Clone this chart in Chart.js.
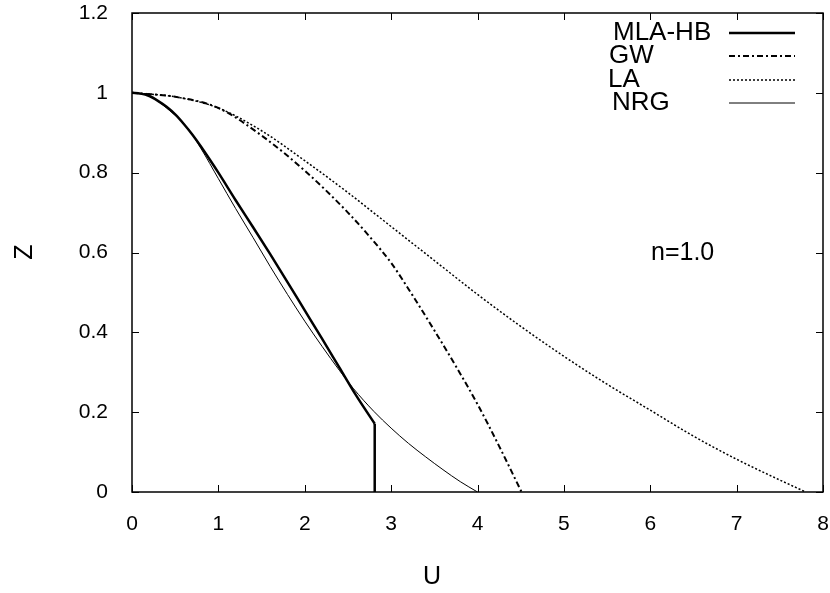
<!DOCTYPE html>
<html>
<head>
<meta charset="utf-8">
<script src="https://cdn.jsdelivr.net/npm/chart.js@4"></script>
<style>
  html, body { margin: 0; padding: 0; background: #fff; }
  #wrap { width: 830px; height: 593px; }
</style>
</head>
<body>
<div id="wrap"><canvas id="chart" width="830" height="593"></canvas></div>
<script>
// values
const mlaU = [0, 0.1, 0.2, 0.3, 0.4, 0.5, 0.6, 0.7, 0.8, 0.9, 1.0, 1.2, 1.4, 1.6, 1.8, 2.0, 2.2, 2.4, 2.6, 2.81];
const mlaZ = [1, 0.998, 0.992, 0.980, 0.965, 0.946, 0.922, 0.895, 0.865, 0.833, 0.800, 0.731, 0.664, 0.596, 0.526, 0.455, 0.384, 0.312, 0.240, 0.171];
const mlaDropU = [2.81, 2.81];
const mlaDropZ = [0.171, 0];

const gwU = [0, 0.5, 1.0, 1.5, 2.0, 2.5, 2.75, 3.0, 3.25, 3.5, 3.75, 4.0, 4.25, 4.51];
const gwZ = [1, 0.990, 0.962, 0.893, 0.805, 0.700, 0.640, 0.574, 0.492, 0.405, 0.315, 0.220, 0.115, 0];

const laU = [0, 0.5, 1.0, 1.5, 2.0, 2.5, 3.0, 3.5, 4.0, 4.5, 5.0, 5.5, 6.0, 6.5, 7.0, 7.5, 7.8];
const laZ = [1, 0.990, 0.962, 0.905, 0.830, 0.750, 0.665, 0.580, 0.495, 0.415, 0.340, 0.270, 0.205, 0.140, 0.082, 0.030, 0];

const nrgU = [0, 0.2, 0.4, 0.65, 0.8, 1.0, 1.2, 1.4, 1.6, 1.8, 2.0, 2.2, 2.4, 2.56, 2.8, 3.0, 3.2, 3.4, 3.6, 3.8, 4.0];
const nrgZ = [1, 0.992, 0.962, 0.910, 0.860, 0.785, 0.710, 0.638, 0.565, 0.495, 0.428, 0.365, 0.305, 0.260, 0.202, 0.160, 0.122, 0.088, 0.056, 0.026, 0];

const xTicks = [0, 1, 2, 3, 4, 5, 6, 7, 8];
const yTicks = [0, 0.2, 0.4, 0.6, 0.8, 1, 1.2];
const legendNames = ['MLA-HB', 'GW', 'LA', 'NRG'];

const pts = (us, zs) => us.map((u, i) => ({ x: u, y: zs[i] }));
const FONT = '"Liberation Sans", Arial, Helvetica, sans-serif';

const lineStyles = [
  { borderWidth: 2.5, borderDash: [] },
  { borderWidth: 2, borderDash: [6, 3, 2, 3] },
  { borderWidth: 1.5, borderDash: [2, 2] },
  { borderWidth: 1, borderDash: [] },
];

// frame, inward ticks, titles and key
const framePlugin = {
  id: 'frame',
  afterDraw(chart) {
    const { ctx, chartArea: a, scales } = chart;
    ctx.save();
    ctx.strokeStyle = '#000';
    ctx.lineWidth = 1.5;
    ctx.setLineDash([]);
    ctx.strokeRect(a.left, a.top, a.right - a.left, a.bottom - a.top);

    const len = 7;
    ctx.lineWidth = 1;
    ctx.beginPath();
    xTicks.forEach(v => {
      const px = Math.round(scales.x.getPixelForValue(v)) + 0.5;
      ctx.moveTo(px, a.bottom); ctx.lineTo(px, a.bottom - len);
      ctx.moveTo(px, a.top); ctx.lineTo(px, a.top + len);
    });
    yTicks.forEach(v => {
      const py = Math.round(scales.y.getPixelForValue(v)) + 0.5;
      ctx.moveTo(a.left, py); ctx.lineTo(a.left + len, py);
      ctx.moveTo(a.right, py); ctx.lineTo(a.right - len, py);
    });
    ctx.stroke();

    ctx.fillStyle = '#000';
    ctx.textBaseline = 'middle';
    ctx.textAlign = 'center';
    ctx.font = '25px ' + FONT;
    ctx.fillText('U', 432, 577);
    ctx.save();
    ctx.translate(25, 252);
    ctx.rotate(-Math.PI / 2);
    ctx.fillText('Z', 0, 0);
    ctx.restore();

    ctx.textAlign = 'left';
    ctx.font = '25px ' + FONT;
    ctx.fillText('n=1.0', 651, 253);

    const textX = [613, 609, 608, 612];
    const rowY = [33, 56, 80, 103];
    ctx.font = '26px ' + FONT;
    legendNames.forEach((name, i) => {
      ctx.fillText(name, textX[i], rowY[i]);
      ctx.lineWidth = lineStyles[i].borderWidth;
      ctx.setLineDash(lineStyles[i].borderDash);
      ctx.beginPath();
      ctx.moveTo(729, rowY[i]);
      ctx.lineTo(795, rowY[i]);
      ctx.stroke();
    });
    ctx.restore();
  }
};

const common = { borderColor: '#000', pointRadius: 0, fill: false, cubicInterpolationMode: 'monotone' };

new Chart(document.getElementById('chart').getContext('2d'), {
  type: 'line',
  data: {
    datasets: [
      { ...common, ...lineStyles[0], label: legendNames[0], data: pts(mlaU, mlaZ) },
      { ...common, ...lineStyles[0], label: legendNames[0], data: pts(mlaDropU, mlaDropZ), cubicInterpolationMode: 'default', tension: 0 },
      { ...common, ...lineStyles[1], label: legendNames[1], data: pts(gwU, gwZ) },
      { ...common, ...lineStyles[2], label: legendNames[2], data: pts(laU, laZ) },
      { ...common, ...lineStyles[3], label: legendNames[3], data: pts(nrgU, nrgZ) },
    ],
  },
  options: {
    responsive: false,
    animation: false,
    devicePixelRatio: 1,
    layout: { padding: { top: 13, right: 7, left: 0, bottom: 0 } },
    plugins: {
      legend: { display: false },
      tooltip: { enabled: false },
    },
    scales: {
      x: {
        type: 'linear',
        min: 0,
        max: 8,
        afterBuildTicks: s => { s.ticks = xTicks.map(v => ({ value: v })); },
        afterFit: s => { s.height = 101; s.paddingLeft = 0; s.paddingRight = 0; },
        grid: { display: false },
        border: { display: false },
        ticks: { color: '#000', font: { family: FONT, size: 21 }, padding: 12, maxRotation: 0 },
      },
      y: {
        type: 'linear',
        min: 0,
        max: 1.2,
        afterBuildTicks: s => { s.ticks = yTicks.map(v => ({ value: v })); },
        afterFit: s => { s.width = 132; s.paddingTop = 0; s.paddingBottom = 0; },
        grid: { display: false },
        border: { display: false },
        ticks: {
          color: '#000',
          font: { family: FONT, size: 21 },
          padding: 16,
          callback: v => String(Math.round(v * 10) / 10),
        },
      },
    },
  },
  plugins: [framePlugin],
});
</script>
</body>
</html>
